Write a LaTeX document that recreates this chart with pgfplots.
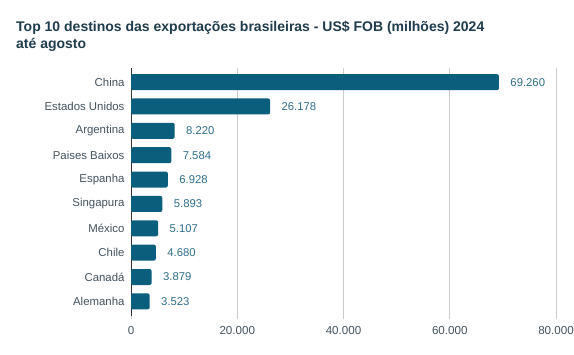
\documentclass[border=0pt]{standalone}
\usepackage{pgfplots}
\pgfplotsset{compat=1.18}
\usepackage{fontspec}
\setmainfont{Liberation Sans}
\definecolor{barc}{HTML}{0B5E7C}
\definecolor{vlab}{HTML}{2E6E8C}
\definecolor{tlab}{HTML}{44535E}
\definecolor{ttl}{HTML}{1F3C4C}
\definecolor{gridc}{HTML}{CCCCCC}
\begin{document}
\begin{tikzpicture}[x=1pt,y=1pt]
\path[use as bounding box, fill=white] (0,0) rectangle (574,355);
\node[anchor=base west, font=\fontsize{14}{17}\selectfont\bfseries, text=ttl, inner sep=0] at (16,323) {Top 10 destinos das exportações brasileiras - US\$ FOB (milhões) 2024};
\node[anchor=base west, font=\fontsize{14}{17}\selectfont\bfseries, text=ttl, inner sep=0] at (16,306) {até agosto};
\begin{axis}[
  at={(131pt,39pt)}, anchor=south west,
  scale only axis, width=425pt, height=248pt,
  xbar, bar width=16pt,
  xmin=0, xmax=80000, ymin=-0.6, ymax=9.58,
  scaled x ticks=false,
  xtick={0,20000,40000,60000,80000},
  ytick={0,...,9},
  yticklabels={Alemanha,Canadá,Chile,México,Singapura,Espanha,Paises Baixos,Argentina,Estados Unidos,China},
  axis lines*=left,
  x axis line style={draw=none},
  y axis line style={draw=black!80, line width=0.8pt},
  xmajorgrids, grid style={gridc, line width=0.8pt},
  tick align=outside, major tick length=3pt,
  xtick style={gridc, line width=0.8pt},
  ytick style={draw=none},
  /pgf/number format/1000 sep={.},
  /pgf/number format/assume math mode=true,
  yticklabel style={font=\fontsize{11.4}{13}\selectfont, text=tlab},
  xticklabel style={font=\fontsize{11.6}{13}\selectfont, text=tlab, yshift=-4pt},
  nodes near coords, point meta=x,
  nodes near coords style={font=\fontsize{11.3}{13}\selectfont, text=vlab, anchor=west, xshift=8pt},
  clip=false,
]
\addplot[fill=barc, draw=none, rounded corners=2pt] coordinates {
(3523,0) (3879,1) (4680,2) (5107,3) (5893,4) (6928,5) (7584,6) (8220,7) (26178,8) (69260,9)};
\end{axis}
\end{tikzpicture}
\end{document}
